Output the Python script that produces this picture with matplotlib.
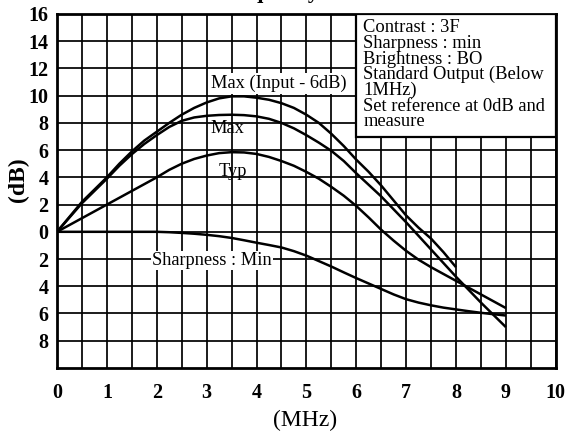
#!/usr/bin/env python3
# -*- coding: utf-8 -*-
"""Frequency characteristics: gain (dB) vs frequency (MHz) for four settings."""

import numpy as np
import matplotlib
matplotlib.use("Agg")
import matplotlib.pyplot as plt
from matplotlib.patches import Rectangle

plt.rcParams["font.family"] = ["Liberation Serif", "DejaVu Serif"]

# frequency points (MHz), 0.25 MHz steps
freq = [0, 0.25, 0.5, 0.75, 1, 1.25, 1.5, 1.75, 2, 2.25, 2.5, 2.75, 3, 3.25, 3.5,
        3.75, 4, 4.25, 4.5, 4.75, 5, 5.25, 5.5, 5.75, 6, 6.25, 6.5, 6.75, 7,
        7.25, 7.5, 7.75, 8, 8.25, 8.5, 8.75, 9]

# curves (dB)
max_input6 = [0, 1.1, 2.2, 3.1, 4.0, 5.0, 5.9, 6.7, 7.35, 8.0, 8.6, 9.1, 9.5, 9.8,
              9.95, 9.95, 9.85, 9.7, 9.45, 9.1, 8.6, 8.0, 7.2, 6.3, 5.3, 4.4, 3.4,
              2.3, 1.2, 0.3, -0.5, -1.5, -2.6]
max_curve = [0, 1.05, 2.1, 3.0, 3.9, 4.85, 5.7, 6.45, 7.1, 7.7, 8.15, 8.4, 8.52,
             8.58, 8.6, 8.57, 8.48, 8.3, 8.0, 7.6, 7.1, 6.55, 5.95, 5.2, 4.3, 3.45,
             2.6, 1.65, 0.7, -0.3, -1.3, -2.3, -3.3, -4.25, -5.2, -6.1, -7.0]
typ_curve = [0, 0.5, 1.0, 1.5, 2.0, 2.5, 3.0, 3.5, 4.0, 4.55, 5.0, 5.35, 5.6, 5.78,
             5.85, 5.83, 5.72, 5.5, 5.2, 4.85, 4.4, 3.9, 3.3, 2.65, 1.9, 1.05, 0.15,
             -0.65, -1.4, -2.05, -2.6, -3.1, -3.6, -4.1, -4.6, -5.1, -5.6]
sharp_min = [0, 0, 0, 0, 0, 0, 0, 0, 0, -0.03, -0.08, -0.14, -0.22, -0.32, -0.45,
             -0.62, -0.8, -0.97, -1.15, -1.42, -1.75, -2.15, -2.55, -2.98, -3.4,
             -3.8, -4.2, -4.6, -4.95, -5.2, -5.4, -5.57, -5.7, -5.83, -5.95, -6.05,
             -6.15]

y_ticks = list(range(-8, 17, 2))
x_ticks = list(range(0, 11))

info_lines = [
    "Contrast : 3F",
    "Sharpness : min",
    "Brightness : BO",
    "Standard Output (Below",
    "1MHz)",
    "Set reference at 0dB and",
    "measure",
]


def main():
    fig = plt.figure(figsize=(5.7, 4.37), dpi=100)
    ax = fig.add_axes([0.1, 0.158, 0.875, 0.81])

    ax.set_xlim(0, 10)
    ax.set_ylim(-10, 16)

    ax.set_xticks(x_ticks)
    ax.set_xticks(np.arange(0.5, 10, 1.0), minor=True)
    ax.set_yticks(y_ticks)
    ax.set_xticklabels([str(v) for v in x_ticks], fontsize=14.5, fontweight="bold")
    ax.set_yticklabels([str(abs(v)) for v in y_ticks], fontsize=14.5, fontweight="bold")
    ax.tick_params(which="both", length=0)
    ax.tick_params(axis="x", pad=11)
    ax.tick_params(axis="y", pad=6)

    ax.grid(True, which="both", color="black", linewidth=1.25)
    ax.set_axisbelow(True)
    for sp in ax.spines.values():
        sp.set_linewidth(2.0)

    lw = 1.8
    for ys in (max_input6, max_curve, typ_curve, sharp_min):
        ax.plot(freq[:len(ys)], ys, color="black", linewidth=lw,
                solid_joinstyle="round", solid_capstyle="butt")

    lbl = dict(fontsize=13.2, ha="center", va="center", color="black")
    ax.text(4.45, 10.9, "Max (Input - 6dB)",
            bbox=dict(facecolor="white", edgecolor="none", pad=1.0), **lbl)
    ax.text(3.42, 7.6, "Max", **lbl)
    ax.text(3.52, 4.4, "Typ", **lbl)
    ax.text(3.1, -2.1, "Sharpness : Min",
            bbox=dict(facecolor="white", edgecolor="none", pad=0.8), **lbl)

    # settings box in the upper right
    ax.add_patch(Rectangle((6.0, 7.0), 4.0, 9.0, facecolor="white",
                           edgecolor="black", linewidth=1.6, zorder=5))
    ax.text(6.14, 15.6, "\n".join(info_lines), fontsize=13.3, ha="left", va="top",
            linespacing=0.89, zorder=6)

    fig.text(305 / 570, 1 - 420 / 437, "(MHz)", fontsize=17, ha="center", va="center")
    fig.text(18 / 570, 1 - 180 / 437, "(dB)", fontsize=17, fontweight="bold",
             rotation=90, ha="center", va="center")

    # title, mostly cut off at the top edge as in the source
    fig.text(0.3825, 1.0046, "Frequency Characteristics", fontsize=16,
             fontweight="bold", ha="left", va="baseline")

    fig.savefig("out.png", dpi=100)
    plt.close(fig)


if __name__ == "__main__":
    main()
